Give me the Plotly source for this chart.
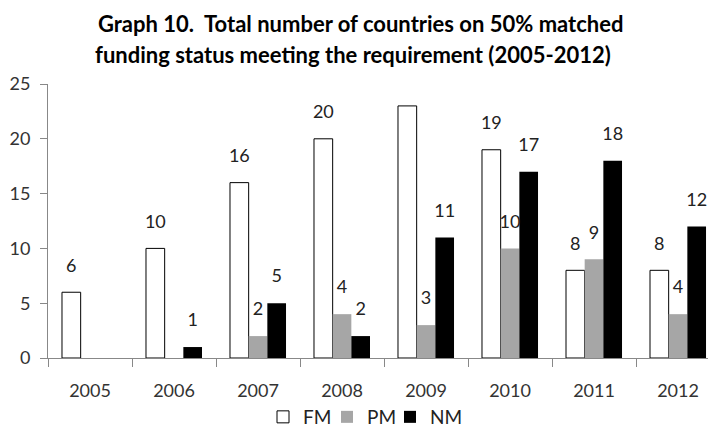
import plotly.graph_objects as go

years = ["2005", "2006", "2007", "2008", "2009", "2010", "2011", "2012"]
fm = [6, 10, 16, 20, 23, 19, 8, 8]
pm = [0, 0, 2, 4, 3, 10, 9, 4]
nm = [0, 1, 5, 2, 11, 17, 18, 12]

FONT = "Lato"
LABEL_LIFT = 2.3  # axis units between bar top and the centre of its value label

def labels(vals):
    return [str(v) if v else "" for v in vals]

PT, PB, PL, PW = 84, 358, 48, 660  # plot area edges in pixels

fig = go.Figure()
series = [
    ("FM", fm, "white", "black", 1, "legend", 263),
    ("PM", pm, "#a6a6a6", "#a6a6a6", 0, "legend2", 327),
    ("NM", nm, "black", "black", 0, "legend3", 390),
]
for name, vals, fill, line, lw, leg, _ in series:
    fig.add_trace(go.Bar(
        name=name, x=years, y=vals, offsetgroup=name, legend=leg,
        marker=dict(color=fill, line=dict(color=line, width=lw)),
        hoverinfo="x+y",
    ))
for name, vals, fill, line, lw, leg, _ in series:
    fig.add_trace(go.Scatter(
        name=name, x=years, y=[v + LABEL_LIFT for v in vals], offsetgroup=name,
        mode="text", text=labels(vals), textposition="middle center",
        cliponaxis=False, showlegend=False, hoverinfo="skip",
        textfont=dict(family=FONT, size=18, color="#222"),
    ))

TITLE_FONT = dict(family=FONT, size=22, color="black")
legends = {}
for name, vals, fill, line, lw, leg, px in series:
    legends[leg] = dict(
        orientation="h", x=(px - PL) / PW, xanchor="left",
        y=(PB - 417) / (PB - PT), yanchor="middle",
        font=dict(family=FONT, size=19, color="#222"), itemwidth=30,
        bgcolor="rgba(0,0,0,0)",
    )

fig.update_layout(
    width=708, height=428,
    margin=dict(l=48, r=0, t=84, b=70, autoexpand=False),
    paper_bgcolor="white", plot_bgcolor="white",
    barmode="group", bargap=0.333, bargroupgap=0,
    scattermode="group", scattergap=0.333,
    annotations=[
        dict(text="<b>Graph 10.  Total number of countries on 50% matched</b>",
             xref="paper", yref="paper", x=(360 - PL) / PW, xanchor="center",
             y=(PB - 23) / (PB - PT), yanchor="middle", showarrow=False, font=TITLE_FONT),
        dict(text="<b>funding status meeting the requirement (2005-2012)</b>",
             xref="paper", yref="paper", x=(353 - PL) / PW, xanchor="center",
             y=(PB - 54) / (PB - PT), yanchor="middle", showarrow=False, font=TITLE_FONT),
    ],
    showlegend=True,
    **legends,
)
fig.update_xaxes(
    type="category", range=[-0.5, 7.357], tickson="boundaries",
    ticks="outside", ticklen=8, tickcolor="#888", showline=True, linecolor="#888",
    linewidth=1, showgrid=False, ticklabelstandoff=16,
    tickfont=dict(family=FONT, size=18, color="#333"),
)
fig.update_yaxes(
    range=[0, 25], dtick=5, ticks="outside", ticklen=7, tickcolor="#888",
    showline=True, linecolor="#888", linewidth=1, showgrid=False, zeroline=False,
    ticklabelstandoff=6,
    tickfont=dict(family=FONT, size=18, color="#333"),
)

fig.write_html(
    "out.html",
    config={"displayModeBar": False},
    post_script="document.body.style.margin='0';document.body.style.overflow='hidden';",
)
